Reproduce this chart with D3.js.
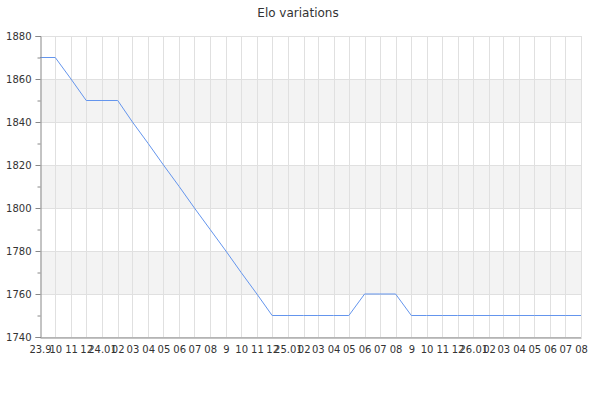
<!DOCTYPE html>
<html>
<head>
<meta charset="utf-8">
<script src="https://cdn.jsdelivr.net/npm/d3@7"></script>
<style>
    body { margin: 0; background: #fff; font-family: "DejaVu Sans", sans-serif; }
</style>
</head>
<body>
<div id="chart"></div>
<script>
// monthly Elo ratings, Sep 2023 -> Aug 2026
const months = [
    '2023-09', '2023-10', '2023-11', '2023-12',
    '2024-01', '2024-02', '2024-03', '2024-04', '2024-05', '2024-06',
    '2024-07', '2024-08', '2024-09', '2024-10', '2024-11', '2024-12',
    '2025-01', '2025-02', '2025-03', '2025-04', '2025-05', '2025-06',
    '2025-07', '2025-08', '2025-09', '2025-10', '2025-11', '2025-12',
    '2026-01', '2026-02', '2026-03', '2026-04', '2026-05', '2026-06',
    '2026-07', '2026-08'
];
const elo = [
    1870, 1870, 1860, 1850,
    1850, 1850, 1840, 1830, 1820, 1810,
    1800, 1790, 1780, 1770, 1760, 1750,
    1750, 1750, 1750, 1750, 1750, 1760,
    1760, 1760, 1750, 1750, 1750, 1750,
    1750, 1750, 1750, 1750, 1750, 1750,
    1750, 1750
];
const xTickLabels = [
    '23.9', '10', '11', '12',
    '24.01', '02', '03', '04', '05', '06', '07', '08', '9', '10', '11', '12',
    '25.01', '02', '03', '04', '05', '06', '07', '08', '9', '10', '11', '12',
    '26.01', '02', '03', '04', '05', '06', '07', '08'
];
const yTicks = [1740, 1760, 1780, 1800, 1820, 1840, 1860, 1880];
const yMinorTicks = [1750, 1770, 1790, 1810, 1830, 1850, 1870];
const title = 'Elo variations';

const margin = {top: 36, right: 19, bottom: 63, left: 40};
const width = 600 - margin.left - margin.right;
const height = 400 - margin.top - margin.bottom;

const parse = d3.timeParse('%Y-%m');
const data = months.map((m, i) => ({date: parse(m), value: elo[i]}));

const svg = d3.select('#chart')
    .append('svg')
    .attr('width', 600)
    .attr('height', 400);

const g = svg.append('g')
    .attr('transform', `translate(${margin.left},${margin.top})`);

const x = d3.scaleTime()
    .domain([data[0].date, data[data.length - 1].date])
    .range([0, width]);

const y = d3.scaleLinear()
    .domain([1740, 1880])
    .range([height, 0]);

// alternating shaded bands
const bands = d3.pairs(yTicks).filter((d, i) => i % 2 === 1);
g.selectAll('rect.band')
    .data(bands)
    .enter()
    .append('rect')
    .attr('class', 'band')
    .attr('x', 0)
    .attr('width', width)
    .attr('y', d => y(d[1]))
    .attr('height', d => y(d[0]) - y(d[1]))
    .attr('fill', '#f3f3f3');

// grid
g.selectAll('line.hgrid')
    .data(yTicks)
    .enter()
    .append('line')
    .attr('class', 'hgrid')
    .attr('x1', 0)
    .attr('x2', width)
    .attr('y1', d => Math.round(y(d)) + 0.5)
    .attr('y2', d => Math.round(y(d)) + 0.5)
    .attr('stroke', '#e0e0e0');

g.selectAll('line.vgrid')
    .data(data.slice(1))
    .enter()
    .append('line')
    .attr('class', 'vgrid')
    .attr('x1', d => Math.round(x(d.date)) + 0.5)
    .attr('x2', d => Math.round(x(d.date)) + 0.5)
    .attr('y1', 0)
    .attr('y2', height)
    .attr('stroke', '#e0e0e0');

// line
const line = d3.line()
    .x(d => x(d.date))
    .y(d => y(d.value));

g.append('path')
    .datum(data)
    .attr('fill', 'none')
    .attr('stroke', '#6495ed')
    .attr('stroke-width', 1)
    .attr('d', line);

// y axis
const yAxis = g.append('g')
    .attr('transform', 'translate(0.5,0)')
    .call(d3.axisLeft(y).tickValues(yTicks).tickSize(5).tickPadding(4).tickFormat(d3.format('d')));

g.append('g')
    .attr('transform', 'translate(0.5,0)')
    .call(d3.axisLeft(y).tickValues(yMinorTicks).tickSize(3).tickFormat(''))
    .select('.domain').remove();

// x axis
const xAxis = g.append('g')
    .attr('transform', `translate(0,${height + 0.5})`)
    .call(d3.axisBottom(x)
        .tickValues(data.map(d => d.date))
        .tickSize(0)
        .tickPadding(8)
        .tickFormat((d, i) => xTickLabels[i]));

[yAxis, xAxis].forEach(ax => {
    ax.select('.domain').attr('stroke', '#888');
    ax.selectAll('text')
        .style('font-family', '"DejaVu Sans", sans-serif')
        .style('font-size', '10px')
        .attr('fill', '#333');
});
g.selectAll('.tick line').attr('stroke', '#888');

// title
svg.append('text')
    .attr('x', 298)
    .attr('y', 17)
    .attr('text-anchor', 'middle')
    .style('font-family', '"DejaVu Sans", sans-serif')
    .style('font-size', '12px')
    .attr('fill', '#333')
    .text(title);
</script>
</body>
</html>
